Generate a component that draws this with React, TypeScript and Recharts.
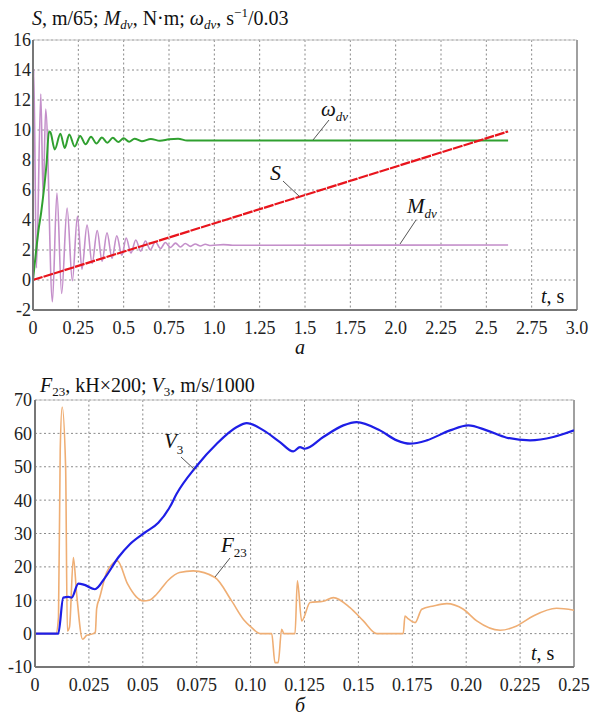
import { CartesianGrid, Line, LineChart, ReferenceLine, XAxis, YAxis } from "recharts";

// ---- chart a: S, M_dv, omega_dv vs t (s) ----
const topTicksX = [0, 0.25, 0.5, 0.75, 1, 1.25, 1.5, 1.75, 2, 2.25, 2.5, 2.75, 3];
const topTickLabelsX = ["0", "0.25", "0.5", "0.75", "1.0", "1.25", "1.5", "1.75", "2.0", "2.25", "2.5", "2.75", "3.0"];
const topTicksY = [-2, 0, 2, 4, 6, 8, 10, 12, 14, 16];

const sT = [0, 1.3, 2.62];
const sV = [0, 4.91, 9.9];

const omegaT = [0, 0.015, 0.03, 0.045, 0.06, 0.075, 0.088, 0.096, 0.12, 0.151, 0.175, 0.2, 0.23, 0.26, 0.29, 0.32, 0.35, 0.38, 0.41, 0.44, 0.47, 0.5, 0.53, 0.56, 0.6, 0.65, 0.7, 0.75, 0.8, 0.85, 2.62];
const omegaV = [0, 1.7, 3.3, 4.5, 6.0, 7.8, 9.9, 9.85, 8.7, 9.75, 8.8, 9.7, 8.9, 9.6, 9.05, 9.55, 9.1, 9.5, 9.15, 9.48, 9.2, 9.45, 9.22, 9.42, 9.25, 9.4, 9.28, 9.38, 9.42, 9.3, 9.3];

const mT = [0, 0.004, 0.019, 0.043, 0.056, 0.07, 0.107, 0.132, 0.158, 0.188, 0.217, 0.245, 0.27, 0.298, 0.326, 0.354, 0.381, 0.408, 0.436, 0.462, 0.49, 0.514, 0.54, 0.567, 0.594, 0.62, 0.647, 0.675, 0.703, 0.73, 0.758, 0.786, 0.813, 0.84, 0.868, 0.895, 0.923, 0.95, 0.98, 1.05, 1.1, 2.62];
const mV = [0, 14.1, 0.8, 12.4, 5.5, 11.4, -1.45, 5.8, -0.9, 4.8, -0.05, 4.25, 0.72, 3.67, 1.1, 3.3, 1.25, 3.15, 1.45, 2.95, 1.65, 2.8, 1.8, 2.67, 1.92, 2.6, 2.02, 2.55, 2.1, 2.5, 2.17, 2.46, 2.2, 2.43, 2.24, 2.4, 2.27, 2.38, 2.3, 2.36, 2.32, 2.33];

// ---- chart b: F23, V3 vs t (s) ----
const botTicksX = [0, 0.025, 0.05, 0.075, 0.1, 0.125, 0.15, 0.175, 0.2, 0.225, 0.25];
const botTickLabelsX = ["0", "0.025", "0.05", "0.075", "0.10", "0.125", "0.15", "0.175", "0.20", "0.225", "0.25"];
const botTicksY = [-10, 0, 10, 20, 30, 40, 50, 60, 70];

const vT = [0, 0.0108, 0.0131, 0.0155, 0.017, 0.0201, 0.023, 0.0278, 0.0325, 0.0386, 0.044, 0.051, 0.0572, 0.0626, 0.0657, 0.0747, 0.0843, 0.0936, 0.0982, 0.106, 0.1136, 0.1198, 0.1229, 0.1252, 0.1337, 0.143, 0.1492, 0.16, 0.1678, 0.1739, 0.1817, 0.1925, 0.201, 0.2095, 0.2188, 0.2296, 0.2404, 0.25];
const vV = [0, 0, 10.8, 11, 10.8, 15, 14.6, 13.3, 16.8, 22.8, 26.8, 30.3, 33.2, 38, 41.9, 50, 56.9, 61.9, 63.1, 60.9, 57.4, 54.6, 55.9, 55.4, 58.9, 62.4, 63.4, 60.9, 57.9, 56.9, 57.9, 60.9, 62.4, 60.9, 58.7, 57.9, 58.9, 60.9];

const fT = [0, 0.0097, 0.0109, 0.0117, 0.0126, 0.0142, 0.015, 0.016, 0.0178, 0.0193, 0.0221, 0.024, 0.027, 0.028, 0.0286, 0.03, 0.0332, 0.036, 0.0382, 0.043, 0.047, 0.0502, 0.053, 0.0564, 0.0618, 0.067, 0.0734, 0.0835, 0.0912, 0.097, 0.1005, 0.1044, 0.1098, 0.1113, 0.1128, 0.1144, 0.1155, 0.1206, 0.1217, 0.1237, 0.1276, 0.1337, 0.1384, 0.1461, 0.1523, 0.1585, 0.1708, 0.1716, 0.173, 0.1763, 0.1794, 0.1848, 0.191, 0.1987, 0.2049, 0.2157, 0.2234, 0.2311, 0.2419, 0.25];
const fV = [0, 0, 5, 55, 67.9, 50, 0.8, 2, 22.8, 12, -1.7, -0.5, 0, 0.5, 7.5, 10.8, 18.3, 21, 21.8, 14.8, 11, 9.8, 10, 11.8, 16, 18.3, 18.8, 16.8, 9.8, 4, 1.8, 0, 0, -8.7, -8.7, 1.3, 0, 0, 15.8, 3.8, 9.3, 9.7, 10.8, 7.8, 3.8, 0, 0, 5.3, 4.5, 3.3, 7.3, 8.3, 9.0, 7.3, 3.8, 1.0, 2.3, 5.3, 7.6, 7.0];

const pts = (ts: number[], vs: number[]) => ts.map((t, i) => ({ t, v: vs[i] }));

const FONT = "Liberation Serif";
const tickStyle = { fontFamily: FONT, fontSize: 18, fill: "#222", style: { fontFamily: FONT } };
const axisLine = { stroke: "#777", strokeWidth: 2 };

const labelFor = (ticks: number[], labels: string[]) => (v: number) => {
  const i = ticks.findIndex((t) => Math.abs(t - v) < 1e-9);
  return i >= 0 ? labels[i] : String(v);
};

function TopChart() {
  return (
    <LineChart width={592} height={345} margin={{ top: 40, right: 15, bottom: 5, left: 0 }} style={{ fontFamily: FONT }}>
      <CartesianGrid stroke="#8a8a8a" strokeDasharray="2 2.5" />
      <XAxis
        dataKey="t"
        type="number"
        domain={[0, 3]}
        ticks={topTicksX}
        interval={0}
        tickFormatter={labelFor(topTicksX, topTickLabelsX)}
        tick={tickStyle}
        tickLine={false}
        tickSize={0}
        tickMargin={11}
        axisLine={axisLine}
        height={30}
        allowDataOverflow
      />
      <YAxis
        type="number"
        domain={[-2, 16]}
        ticks={topTicksY}
        interval={0}
        tick={tickStyle}
        tickLine={false}
        tickSize={0}
        tickMargin={2}
        axisLine={axisLine}
        width={33}
        allowDataOverflow
      />
      <ReferenceLine y={16} stroke="#c8c8c8" />
      <ReferenceLine x={3} stroke="#a0a0a0" strokeWidth={2} />
      <Line data={pts(mT, mV)} dataKey="v" type="monotone" stroke="#c48fca" strokeWidth={1.6} dot={false} isAnimationActive={false} />
      <Line data={pts(omegaT, omegaV)} dataKey="v" type="monotone" stroke="#30a030" strokeWidth={2} dot={false} isAnimationActive={false} />
      <Line data={pts(sT, sV)} dataKey="v" type="linear" stroke="#e8141c" strokeWidth={2.2} strokeDasharray="10 1" dot={false} isAnimationActive={false} />
    </LineChart>
  );
}

function BottomChart() {
  return (
    <LineChart width={592} height={342} margin={{ top: 40, right: 18, bottom: 5, left: 0 }} style={{ fontFamily: FONT }}>
      <CartesianGrid stroke="#8a8a8a" strokeDasharray="2 2.5" />
      <XAxis
        dataKey="t"
        type="number"
        domain={[0, 0.25]}
        ticks={botTicksX}
        interval={0}
        tickFormatter={labelFor(botTicksX, botTickLabelsX)}
        tick={tickStyle}
        tickLine={false}
        tickSize={0}
        tickMargin={11}
        axisLine={axisLine}
        height={30}
        allowDataOverflow
      />
      <YAxis
        type="number"
        domain={[-10, 70]}
        ticks={botTicksY}
        interval={0}
        tick={tickStyle}
        tickLine={false}
        tickSize={0}
        tickMargin={3}
        axisLine={axisLine}
        width={35}
        allowDataOverflow
      />
      <ReferenceLine y={70} stroke="#c8c8c8" />
      <ReferenceLine x={0.25} stroke="#a0a0a0" strokeWidth={2} />
      <Line data={pts(fT, fV)} dataKey="v" type="monotone" stroke="#efae74" strokeWidth={1.6} dot={false} isAnimationActive={false} />
      <Line data={pts(vT, vV)} dataKey="v" type="monotone" stroke="#1e1ee6" strokeWidth={2.2} dot={false} isAnimationActive={false} />
    </LineChart>
  );
}

function Notes() {
  const sub = { fontSize: 13 };
  const it = { fontStyle: "italic" as const };
  return (
    <svg width={592} height={716} style={{ position: "absolute", left: 0, top: 0, pointerEvents: "none", fontFamily: FONT }} fill="#111">
      {/* titles */}
      <text x={32} y={25} fontSize={20}>
        <tspan {...it}>S</tspan>, m/65; <tspan {...it}>M</tspan>
        <tspan {...it} {...sub} dy={4}>dv</tspan>
        <tspan dy={-4}>, N·m; </tspan>
        <tspan {...it}>ω</tspan>
        <tspan {...it} {...sub} dy={4}>dv</tspan>
        <tspan dy={-4}>, s</tspan>
        <tspan {...sub} dy={-8}>−1</tspan>
        <tspan dy={8}>/0.03</tspan>
      </text>
      <text x={40} y={392} fontSize={20}>
        <tspan {...it}>F</tspan>
        <tspan {...sub} dy={4}>23</tspan>
        <tspan dy={-4}>, kH×200; </tspan>
        <tspan {...it}>V</tspan>
        <tspan {...sub} dy={4}>3</tspan>
        <tspan dy={-4}>, m/s/1000</tspan>
      </text>

      {/* chart a labels */}
      <text x={321} y={116} fontSize={21}>
        <tspan {...it}>ω</tspan>
        <tspan {...it} {...sub} dy={5}>dv</tspan>
      </text>
      <line x1={313} y1={140} x2={329} y2={120} stroke="#555" />
      <text x={270} y={180} fontSize={22} {...it}>S</text>
      <line x1={283} y1={181} x2={300} y2={197} stroke="#555" />
      <text x={407} y={213} fontSize={21}>
        <tspan {...it}>M</tspan>
        <tspan {...it} {...sub} dy={5}>dv</tspan>
      </text>
      <line x1={416} y1={220} x2={400} y2={244} stroke="#555" />
      <text x={541} y={303} fontSize={20}>
        <tspan {...it}>t</tspan>, s
      </text>
      <text x={300} y={354} fontSize={20} textAnchor="middle" {...it}>а</text>

      {/* chart b labels */}
      <text x={164} y={448} fontSize={21}>
        <tspan {...it}>V</tspan>
        <tspan {...sub} dy={6}>3</tspan>
      </text>
      <line x1={181} y1={457} x2={195} y2={470} stroke="#555" />
      <text x={221} y={552} fontSize={21}>
        <tspan {...it}>F</tspan>
        <tspan {...sub} dy={5}>23</tspan>
      </text>
      <line x1={230} y1={558} x2={215} y2={577} stroke="#555" />
      <text x={531} y={660} fontSize={20}>
        <tspan {...it}>t</tspan>, s
      </text>
      <text x={300} y={712} fontSize={20} textAnchor="middle" {...it}>б</text>
    </svg>
  );
}

export default function App() {
  return (
    <div style={{ position: "absolute", left: 0, top: 0, width: 592, height: 716, background: "#fff" }}>
      <div style={{ position: "absolute", left: 0, top: 0 }}>
        <TopChart />
      </div>
      <div style={{ position: "absolute", left: 0, top: 360 }}>
        <BottomChart />
      </div>
      <Notes />
    </div>
  );
}
